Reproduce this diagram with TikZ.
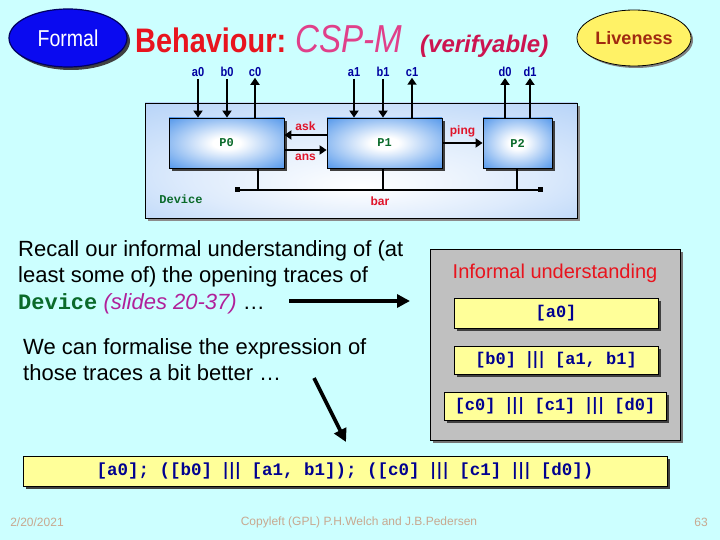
\documentclass[tikz,border=0pt]{standalone}
\usepackage{fontspec}
\setmainfont{Liberation Sans}
\setmonofont{Liberation Mono}
\newfontfamily\narrowsf[FakeStretch=0.85]{Liberation Sans}
\newfontfamily\barfont{DejaVu Sans}
\usetikzlibrary{arrows.meta,shadows,shapes.geometric,positioning}
\definecolor{slidebg}{HTML}{CCFFFF}
\definecolor{formalblue}{HTML}{0A0AF0}
\definecolor{formalrim}{HTML}{000060}
\definecolor{liveyellow}{HTML}{FFF266}
\definecolor{livebrown}{HTML}{A02A10}
\definecolor{titred}{HTML}{E8141E}
\definecolor{csppink}{HTML}{E0408A}
\definecolor{verred}{HTML}{CC1450}
\definecolor{procblue}{HTML}{3A88E8}
\definecolor{devblue}{HTML}{A0C6F6}
\definecolor{devgreen}{HTML}{0A6A2A}
\definecolor{chanblue}{HTML}{0000A0}
\definecolor{msgred}{HTML}{E0142A}
\definecolor{slidepink}{HTML}{B0209A}
\definecolor{traceyellow}{HTML}{FFFF99}
\definecolor{traceblue}{HTML}{000090}
\definecolor{boxgray}{HTML}{C0C0C0}
\definecolor{foottan}{HTML}{C8A890}
\pgfdeclareradialshading{procshade}{\pgfpoint{0bp}{0bp}}{color(0bp)=(white); color(6bp)=(white); color(40bp)=(procblue); color(50bp)=(procblue)}
\pgfdeclareradialshading{devshade}{\pgfpoint{0bp}{-12bp}}{color(0bp)=(white); color(20bp)=(devblue!35!white); color(48bp)=(devblue)}
\newcommand{\bars}{{\barfont\bfseries\fontsize{17}{17}\selectfont|||}}
\begin{document}
\begin{tikzpicture}[x=1pt,y=-1pt,every node/.style={inner sep=0pt},
  shad/.style={drop shadow={shadow xshift=3pt,shadow yshift=-3pt,fill=black!75,opacity=1}},
  proc/.style={draw=black,line width=0.8pt,shade,shading=procshade,minimum width=115pt,minimum height=50pt,
    font=\ttfamily\bfseries\fontsize{12}{14}\selectfont,text=devgreen,shad},
  chan/.style={font=\narrowsf\bfseries\fontsize{13}{15}\selectfont,text=chanblue},
  msg/.style={font=\bfseries\fontsize{12}{14}\selectfont,text=msgred},
  wire/.style={line width=2.6pt,-{Triangle[length=7pt,width=9pt]}},
  bigwire/.style={line width=3.6pt,-{Triangle[length=13pt,width=13pt]}},
  trace/.style={draw=black,fill=traceyellow,line width=0.8pt,font=\ttfamily\bfseries\fontsize{17}{20}\selectfont,
    text=traceblue,shad},
  body/.style={anchor=north west,align=left,font=\fontsize{22}{26.5}\selectfont},
  foot/.style={font=\fontsize{12}{14}\selectfont,text=foottan}]
\useasboundingbox[fill=slidebg] (0,0) rectangle (720,540);
% header
\node[ellipse,fill=formalblue,draw=formalrim,line width=1.2pt,minimum width=118pt,minimum height=58pt,
  text=white,font=\narrowsf\fontsize{23}{26}\selectfont,shad] (formal) at (68,38) {Formal};
\node[ellipse,fill=liveyellow,draw=black,line width=0.8pt,minimum width=114pt,minimum height=56pt,
  text=livebrown,font=\bfseries\fontsize{18}{22}\selectfont,drop shadow={shadow xshift=2pt,shadow yshift=-2pt,fill=black!50,opacity=1}] (live) at (634,38) {Liveness};
\node[anchor=base west,text=titred,font=\narrowsf\bfseries\fontsize{34}{40}\selectfont] (beh) at (135,53) {Behaviour:};
\node[anchor=base west,text=csppink,font=\narrowsf\itshape\fontsize{39}{44}\selectfont] (csp) at (295,53) {CSP-M};
\node[anchor=base west,text=verred,font=\bfseries\itshape\fontsize{24}{28}\selectfont] (ver) at (420,53) {(verifyable)};
% the network
\node[draw=black,line width=0.8pt,shade,shading=devshade,minimum width=432pt,minimum height=115pt,
  drop shadow={shadow xshift=3pt,shadow yshift=-3pt,fill=black!45,opacity=1}] (dev) at (361,160.5) {};
\node[font=\ttfamily\bfseries\fontsize{12}{14}\selectfont,text=devgreen] (devname) at (181,199) {Device};
\node[proc] (p0) at (226.5,143) {P0};
\node[proc] (p1) at (384.5,143) {P1};
\node[proc,minimum width=69pt] (p2) at (517.5,143) {P2};
\node[chan] (la0) at (198,72) {a0};
\node[chan] (lb0) at (227,72) {b0};
\node[chan] (lc0) at (255,72) {c0};
\node[chan] (la1) at (354,72) {a1};
\node[chan] (lb1) at (383,72) {b1};
\node[chan] (lc1) at (412,72) {c1};
\node[chan] (ld0) at (505,72) {d0};
\node[chan] (ld1) at (530,72) {d1};
\draw[wire] ([yshift=-2pt]la0.south) -- (la0.south |- p0.north);
\draw[wire] ([yshift=-2pt]lb0.south) -- (lb0.south |- p0.north);
\draw[wire] (lc0.south |- p0.north) -- ([yshift=-1pt]lc0.south);
\draw[wire] ([yshift=-2pt]la1.south) -- (la1.south |- p1.north);
\draw[wire] ([yshift=-2pt]lb1.south) -- (lb1.south |- p1.north);
\draw[wire] (lc1.south |- p1.north) -- ([yshift=-1pt]lc1.south);
\draw[wire] (ld0.south |- p2.north) -- ([yshift=-1pt]ld0.south);
\draw[wire] (ld1.south |- p2.north) -- ([yshift=-1pt]ld1.south);
\draw[wire] ([yshift=8pt]p1.west) -- ([yshift=8pt]p0.east) node[msg,midway,above=3pt] {ask};
\draw[wire] ([yshift=-7pt]p0.east) -- ([yshift=-7pt]p1.west) node[msg,midway,below=3pt] {ans};
\draw[wire] (p1.east) -- (p2.west) node[msg,midway,above=5pt] {ping};
% bar
\coordinate (barl) at (235,190);
\coordinate (barr) at (543,190);
\coordinate (tap0) at (258,190);
\coordinate (tap1) at (383,190);
\coordinate (tap2) at (517,190);
\draw[line width=2.2pt,{Square[length=5pt,width=5pt]}-{Square[length=5pt,width=5pt]}] (barl) -- (barr);
\draw[line width=2.2pt] (tap0 |- p0.south) -- (tap0);
\draw[line width=2.2pt] (tap1 |- p1.south) -- (tap1);
\draw[line width=2.2pt] (tap2 |- p2.south) -- (tap2);
\node[msg] (barname) at (380,201) {bar};
% text
\node[body] (recall) at (18,240) {Recall our informal understanding of (at\\
  least some of) the opening traces of\\
  {\ttfamily\bfseries\color{devgreen}Device} {\itshape\color{slidepink}(slides 20-37)} \dots};
\node[body] (formalise) at (23,338) {We can formalise the expression of\\
  those traces a bit better \dots};
\coordinate (ra) at (289,301);
\coordinate (rb) at (410,301);
\draw[bigwire] (ra) -- (rb);
\coordinate (fa) at (314,378);
\coordinate (fb) at (346,442);
\draw[bigwire] (fa) -- (fb);
% informal understanding
\node[draw=black,line width=0.8pt,fill=boxgray,minimum width=250pt,minimum height=191pt,
  drop shadow={shadow xshift=3pt,shadow yshift=-3pt,fill=black!55,opacity=1}] (inf) at (555,344.5) {};
\node[text=titred,font=\fontsize{20}{24}\selectfont] (infname) at (555,273) {Informal understanding};
\node[trace,minimum width=204pt,minimum height=30pt] (ya) at (556,313) {[a0]};
\node[trace,minimum width=204pt,minimum height=28pt] (yb) at (556,360) {[b0] \bars{} [a1, b1]};
\node[trace,minimum width=222pt,minimum height=28pt] (yc) at (555,406) {[c0] \bars{} [c1] \bars{} [d0]};
% formal version
\node[trace,minimum width=644pt,minimum height=30pt,font=\ttfamily\bfseries\fontsize{17.5}{20}\selectfont] (yd) at (345,471)
  {[a0]; ([b0] \bars{} [a1, b1]); ([c0] \bars{} [c1] \bars{} [d0])};
% footer
\node[foot] (date) at (37,522) {2/20/2021};
\node[foot] (copy) at (359,522) {Copyleft (GPL) P.H.Welch and J.B.Pedersen};
\node[foot] (page) at (701,522) {63};
\end{tikzpicture}
\end{document}
